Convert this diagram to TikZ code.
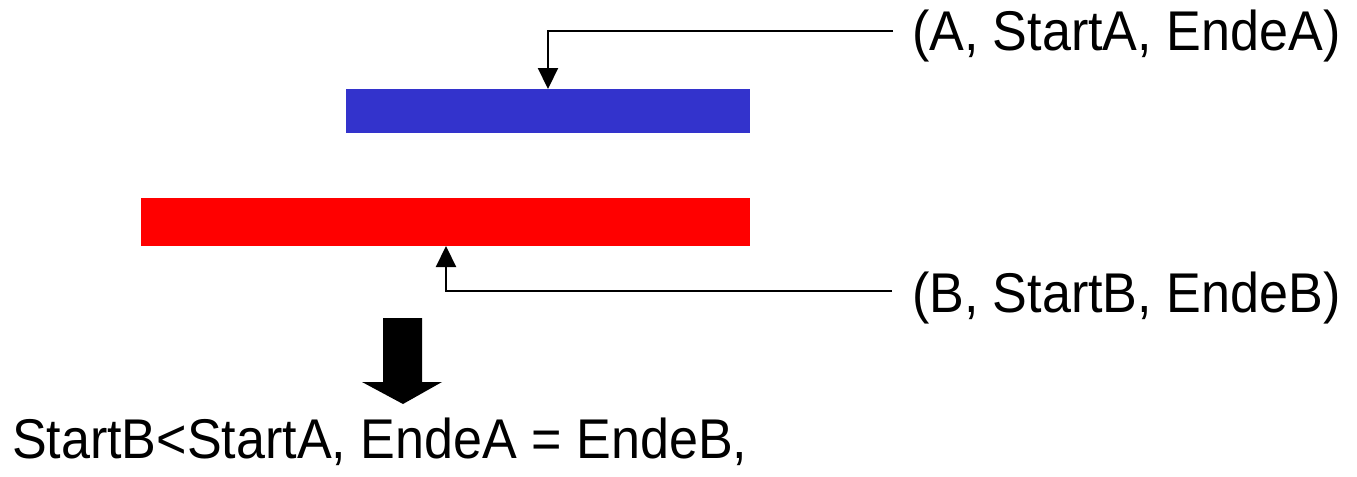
\documentclass[tikz,border=0pt]{standalone}
\usepackage{fontspec}
\setmainfont{Liberation Sans}[FakeStretch=0.93]
\usetikzlibrary{arrows.meta}
\definecolor{barblue}{RGB}{51,51,204}
\definecolor{barred}{RGB}{255,0,0}
\begin{document}
\begin{tikzpicture}[x=0.5pt,y=-0.5pt,
  bar/.style={draw=none,inner sep=0pt,outer sep=0pt},
  lbl/.style={inner sep=0pt,outer sep=0pt,font=\fontsize{28pt}{32pt}\selectfont},
  conn/.style={line width=1.1pt,-{Triangle[length=10.5pt,width=10pt]}}]
\useasboundingbox (0,0) rectangle (1357,477);
\fill[barblue] (346,89) rectangle (750,133);
\node[bar,minimum width=202pt,minimum height=22pt] (A) at (548,111) {};
\fill[barred] (141,198) rectangle (750,246);
\node[bar,minimum width=304.5pt,minimum height=24pt] (B) at (445.5,222) {};
\node[lbl,anchor=base west] (ta) at (912,50) {(A, StartA, EndeA)};
\node[lbl,anchor=base west] (tb) at (912,312) {(B, StartB, EndeB)};
\coordinate (ea) at (893,31);
\coordinate (ka) at (548,31);
\coordinate (eb) at (892,291);
\coordinate (kb) at (446,291);
\draw[conn] (ea) -- (ka) -- (A.north);
\draw[conn] (eb) -- (kb) -- (kb |- B.south);
\fill[black] (383,318) -- (422,318) -- (422,382) -- (442,382) -- (403,404) -- (362,382) -- (383,382) -- cycle;
\node[lbl,anchor=base west] (res) at (12,458) {StartB<StartA, EndeA = EndeB,};
\end{tikzpicture}
\end{document}
